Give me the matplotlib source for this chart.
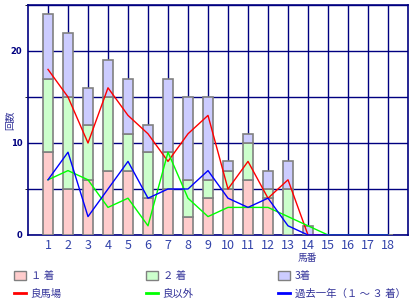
import matplotlib
matplotlib.use("Agg")
import matplotlib.pyplot as plt
from matplotlib.patches import Patch
from matplotlib.lines import Line2D

plt.rcParams['font.family'] = ['Noto Sans CJK JP', 'DejaVu Sans']

horse_no = list(range(1, 19))
first = [9, 5, 6, 7, 7, 4, 5, 2, 4, 5, 6, 4, 0, 0, 0, 0, 0, 0]
second = [8, 10, 6, 8, 4, 5, 4, 4, 2, 2, 4, 1, 5, 0, 0, 0, 0, 0]
third = [7, 7, 4, 4, 6, 3, 8, 9, 9, 1, 1, 2, 3, 1, 0, 0, 0, 0]
good_track = [18, 15, 10, 16, 13, 11, 8, 11, 13, 5, 8, 4, 6, 0, 0, 0, 0, 0]
other_track = [6, 7, 6, 3, 4, 1, 9, 4, 2, 3, 3, 3, 2, 1, 0, 0, 0, 0]
past_year = [6, 9, 2, 5, 8, 4, 5, 5, 7, 4, 3, 4, 1, 0, 0, 0, 0, 0]

navy = '#000080'
txt = '#333399'

fig = plt.figure(figsize=(4.2, 3.0), dpi=100)
ax = fig.add_axes([28/420, 65/300, 380/420, 230/300])

bottom2 = [a for a in first]
bottom3 = [a + b for a, b in zip(first, second)]
ax.bar(horse_no, first, width=0.5, color='#FFCCCC', edgecolor='#808080', linewidth=1.2, zorder=3)
ax.bar(horse_no, second, width=0.5, bottom=bottom2, color='#CCFFCC', edgecolor='#808080', linewidth=1.2, zorder=3)
ax.bar(horse_no, third, width=0.5, bottom=bottom3, color='#CCCCFF', edgecolor='#808080', linewidth=1.2, zorder=3)

ax.plot(horse_no, good_track, color='red', linewidth=1, zorder=4)
ax.plot(horse_no, other_track, color='#00FF00', linewidth=1, zorder=4)
ax.plot(horse_no, past_year, color='blue', linewidth=1, zorder=4)

ax.set_xlim(0, 19)
ax.set_ylim(0, 25)
ax.set_xticks(horse_no)
ax.set_xticklabels([str(h) for h in horse_no], color='#3344aa', fontsize=9)
ax.set_yticks([0, 10, 20])
ax.set_yticklabels(['0', '10', '20'], color=navy, fontsize=6, fontweight='bold', family='DejaVu Sans')
ax.set_yticks([5, 15, 25], minor=True)
ax.tick_params(axis='both', length=0, pad=4)
ax.tick_params(axis='x', pad=3)
ax.grid(True, which='both', color=navy, linewidth=1, zorder=0)
ax.set_axisbelow(True)
for s in ax.spines.values():
    s.set_color(navy)
    s.set_linewidth(1.2)

fig.text(10/420, 1 - 120/300, '回数', rotation=90, color=txt, fontsize=7, ha='center', va='center')
fig.text(307/420, 1 - 258/300, '馬番', color=txt, fontsize=7, ha='center', va='center')

columns = [
    (16, [Patch(facecolor='#FFCCCC', edgecolor='#808080', label='１ 着'),
          Line2D([], [], color='red', linewidth=2, label='良馬場')]),
    (148, [Patch(facecolor='#CCFFCC', edgecolor='#808080', label='２ 着'),
           Line2D([], [], color='#00FF00', linewidth=2, label='良以外')]),
    (280, [Patch(facecolor='#CCCCFF', edgecolor='#808080', label='3着'),
           Line2D([], [], color='blue', linewidth=2, label='過去一年（１ ～ ３ 着）')]),
]
for xpx, hs in columns:
    leg = fig.legend(handles=hs, ncol=1, loc='upper left', bbox_to_anchor=(xpx/420 - 0.005, 1 - 271/300),
                     frameon=False, fontsize=7.5, handlelength=1.2, handleheight=0.9, handletextpad=0.4,
                     labelspacing=0.75, borderpad=0, borderaxespad=0)
    for t in leg.get_texts():
        t.set_color(txt)

fig.savefig('out.png', dpi=100)
